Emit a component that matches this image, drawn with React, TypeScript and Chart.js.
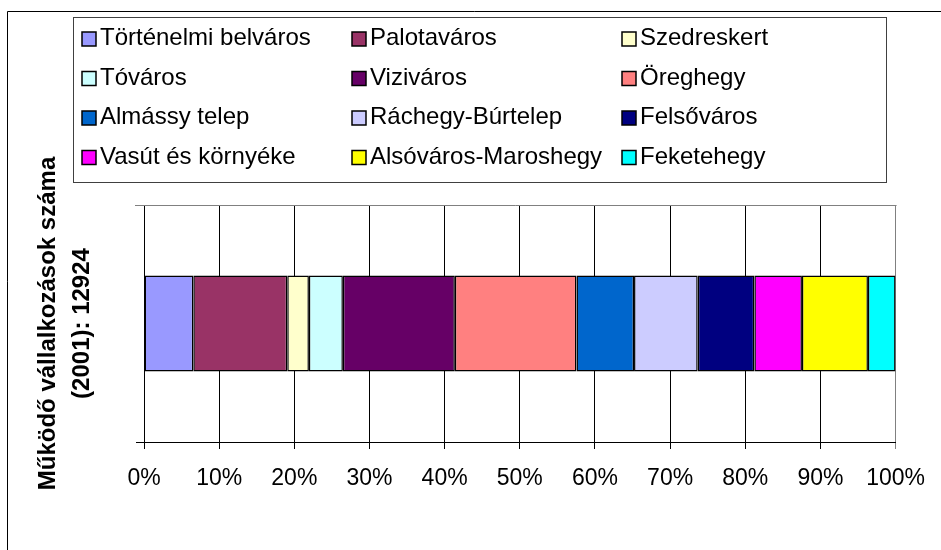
import { useEffect, useRef } from 'react';
import { Chart, registerables } from 'chart.js';

Chart.register(...registerables);

const categories = [''];
const districts = [
  'Történelmi belváros',
  'Palotaváros',
  'Szedreskert',
  'Tóváros',
  'Viziváros',
  'Öreghegy',
  'Almássy telep',
  'Ráchegy-Búrtelep',
  'Felsőváros',
  'Vasút és környéke',
  'Alsóváros-Maroshegy',
  'Feketehegy',
];
const shares = [6.56, 12.5, 2.88, 4.52, 14.9, 16.18, 7.66, 8.47, 7.54, 6.33, 8.78, 3.68];
const colors = [
  '#9999FF', '#993366', '#FFFFCC', '#CCFFFF', '#660066', '#FF8080',
  '#0066CC', '#CCCCFF', '#000080', '#FF00FF', '#FFFF00', '#00FFFF',
];
const axisTitle = ['Működő vállalkozások száma', '(2001): 12924'];

const FONT = '"Liberation Sans", Arial, sans-serif';

const framePlugin = {
  id: 'frameAndLegend',
  afterDraw(chart: any) {
    const ctx = chart.ctx;
    const a = chart.chartArea;
    ctx.save();
    // outer chart border
    ctx.strokeStyle = '#000';
    ctx.lineWidth = 1;
    ctx.beginPath();
    ctx.moveTo(7.5, 560);
    ctx.lineTo(7.5, 11.5);
    ctx.lineTo(960, 11.5);
    ctx.stroke();
    // plot area top border
    ctx.strokeStyle = '#808080';
    ctx.beginPath();
    ctx.moveTo(a.left - 9, a.top + 0.5);
    ctx.lineTo(a.right + 1, a.top + 0.5);
    ctx.stroke();
    // legend box
    ctx.strokeStyle = '#404040';
    ctx.lineWidth = 1;
    ctx.strokeRect(73.5, 17.5, 813, 165);
    ctx.font = '24px ' + FONT;
    ctx.textBaseline = 'alphabetic';
    ctx.textAlign = 'left';
    chart.data.datasets.forEach((ds: any, i: number) => {
      const col = i % 3;
      const row = Math.floor(i / 3);
      const x = 82 + col * 270;
      const base = 45 + row * 39.5;
      ctx.fillStyle = ds.backgroundColor;
      ctx.fillRect(x, base - 13, 14, 14);
      ctx.strokeStyle = '#000';
      ctx.lineWidth = 1.5;
      ctx.strokeRect(x, base - 13, 14, 14);
      ctx.fillStyle = '#000';
      ctx.fillText(ds.label, x + 18, base);
    });
    ctx.restore();
  },
};

export default function App() {
  const ref = useRef<HTMLCanvasElement>(null);

  useEffect(() => {
    if (!ref.current) return;
    const chart = new Chart(ref.current, {
      type: 'bar',
      data: {
        labels: categories,
        datasets: districts.map((name, i) => ({
          label: name,
          data: [shares[i]],
          backgroundColor: colors[i],
          borderColor: '#000',
          borderWidth: 1.5,
          borderSkipped: false,
          barPercentage: 0.405,
          categoryPercentage: 1,
        })),
      },
      options: {
        indexAxis: 'y',
        responsive: false,
        animation: false,
        layout: { padding: { left: 0, right: 45, top: 205, bottom: 58 } },
        plugins: {
          legend: { display: false },
          tooltip: { enabled: false },
        },
        scales: {
          x: {
            stacked: true,
            min: 0,
            max: 100,
            afterFit: (s: any) => { s.height = 50; },
            ticks: {
              stepSize: 10,
              color: '#000',
              padding: 16,
              font: { family: FONT, size: 23 },
              callback: (v: any) => v + '%',
            },
            grid: {
              color: (c: any) => (c.index === 10 ? '#808080' : '#000'),
              lineWidth: 1,
              tickLength: 7,
            },
            border: { display: true, color: '#000', width: 1 },
          },
          y: {
            stacked: true,
            afterFit: (s: any) => { s.width = 144; },
            ticks: { display: true, color: '#000', font: { family: FONT, size: 23 } },
            grid: {
              offset: true,
              drawOnChartArea: false,
              color: '#000',
              tickLength: 8,
            },
            border: { display: true, color: '#000', width: 1 },
            title: {
              display: true,
              text: axisTitle,
              color: '#000',
              padding: { top: 31, bottom: 0 },
              font: { family: FONT, size: 24, weight: 'bold', lineHeight: '34px' },
            },
          },
        },
      },
      plugins: [framePlugin],
    });
    return () => chart.destroy();
  }, []);

  return (
    <div style={{ position: 'fixed', left: 0, top: 0, width: 941, height: 550, overflow: 'hidden', background: '#fff' }}>
      <canvas ref={ref} width={941} height={550} style={{ display: 'block' }} />
    </div>
  );
}
